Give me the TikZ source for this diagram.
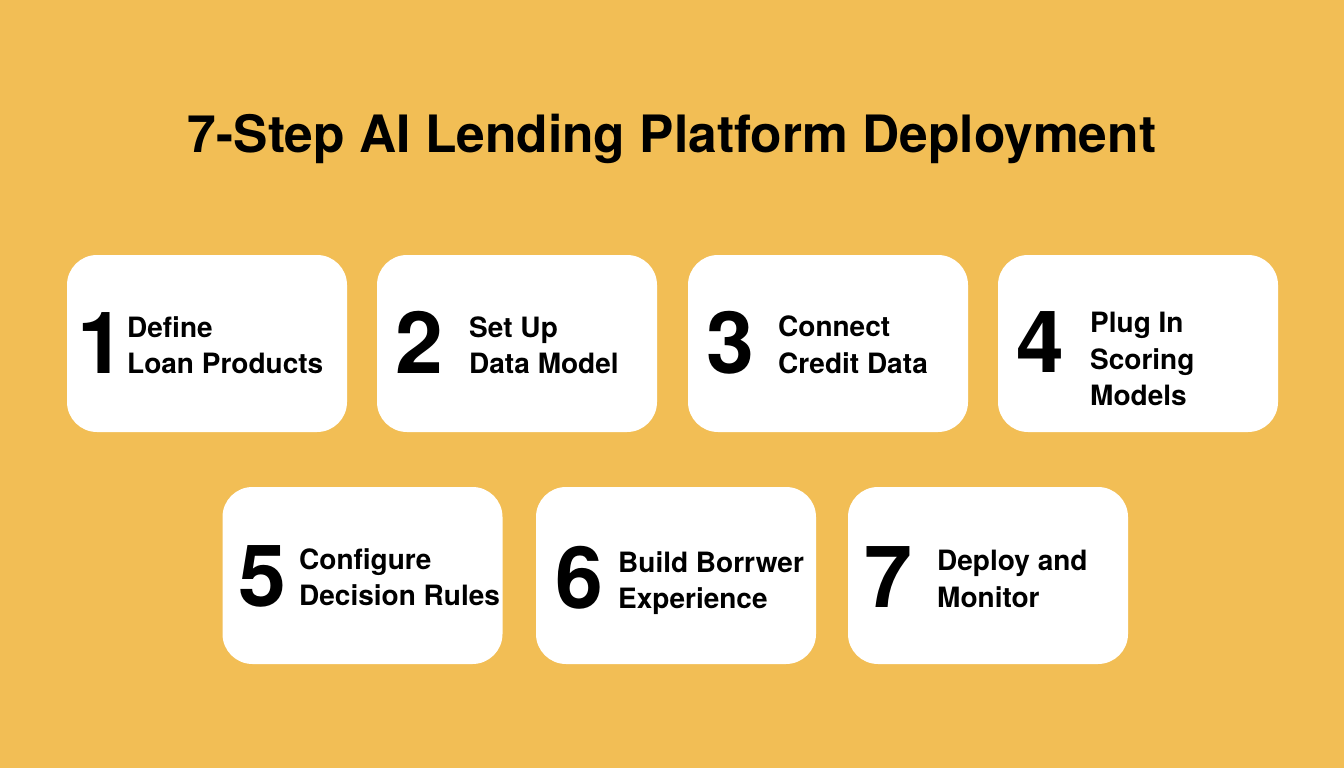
\documentclass[tikz,border=0pt]{standalone}
\usepackage{fontspec}
\setmainfont{TeX Gyre Heros}
\newfontfamily\lblfont{TeX Gyre Heros}
\usepackage{tikz}
\usetikzlibrary{positioning}
\definecolor{bgyellow}{HTML}{F2BE55}

\begin{document}
\begin{tikzpicture}[x=1pt,y=-1pt,
 card/.style={fill=white,rounded corners=30pt,minimum width=280pt,minimum height=177pt,inner sep=0pt},
 num/.style={anchor=base west,inner sep=0pt,font=\fontsize{86}{86}\selectfont\bfseries},
 lbl/.style={anchor=west,inner sep=0pt,align=left,font=\fontsize{28}{36.5}\selectfont\lblfont\bfseries}]
 \fill[bgyellow] (0,0) rectangle (1344,768);
 \useasboundingbox (0,0) rectangle (1344,768);
 \node[font=\fontsize{51.5}{52}\selectfont\bfseries,anchor=base] (title) at (672,152) {7-Step AI Lending Platform Deployment};
 % first row
 \node[card] (c1) at (207,343.5) {};
 \node[card] (c2) at (517,343.5) {};
 \node[card] (c3) at (828,343.5) {};
 \node[card] (c4) at (1138,343.5) {};
 \node[num] (n1) at (77,373) {1};
 \node[lbl] (t1) at (127,345) {Define\\Loan Products};
 \node[num] (n2) at (395,373) {2};
 \node[lbl] (t2) at (469,345) {Set Up\\Data Model};
 \node[num] (n3) at (706,373) {3};
 \node[lbl] (t3) at (778,345) {Connect\\Credit Data};
 \node[num] (n4) at (1016,372) {4};
 \node[lbl] (t4) at (1090,359) {Plug In\\Scoring\\Models};
 % second row
 \node[card] (c5) at (362.5,575.5) {};
 \node[card] (c6) at (676,575.5) {};
 \node[card] (c7) at (988,575.5) {};
 \node[num] (n5) at (238,606) {5};
 \node[lbl] (t5) at (299,577) {Configure\\Decision Rules};
 \node[num] (n6) at (555,608) {6};
 \node[lbl] (t6) at (618,583) {Build Borrwer\\Experience};
 \node[num] (n7) at (864,607) {7};
 \node[lbl] (t7) at (937,579) {Deploy and\\Monitor};
\end{tikzpicture}
\end{document}
